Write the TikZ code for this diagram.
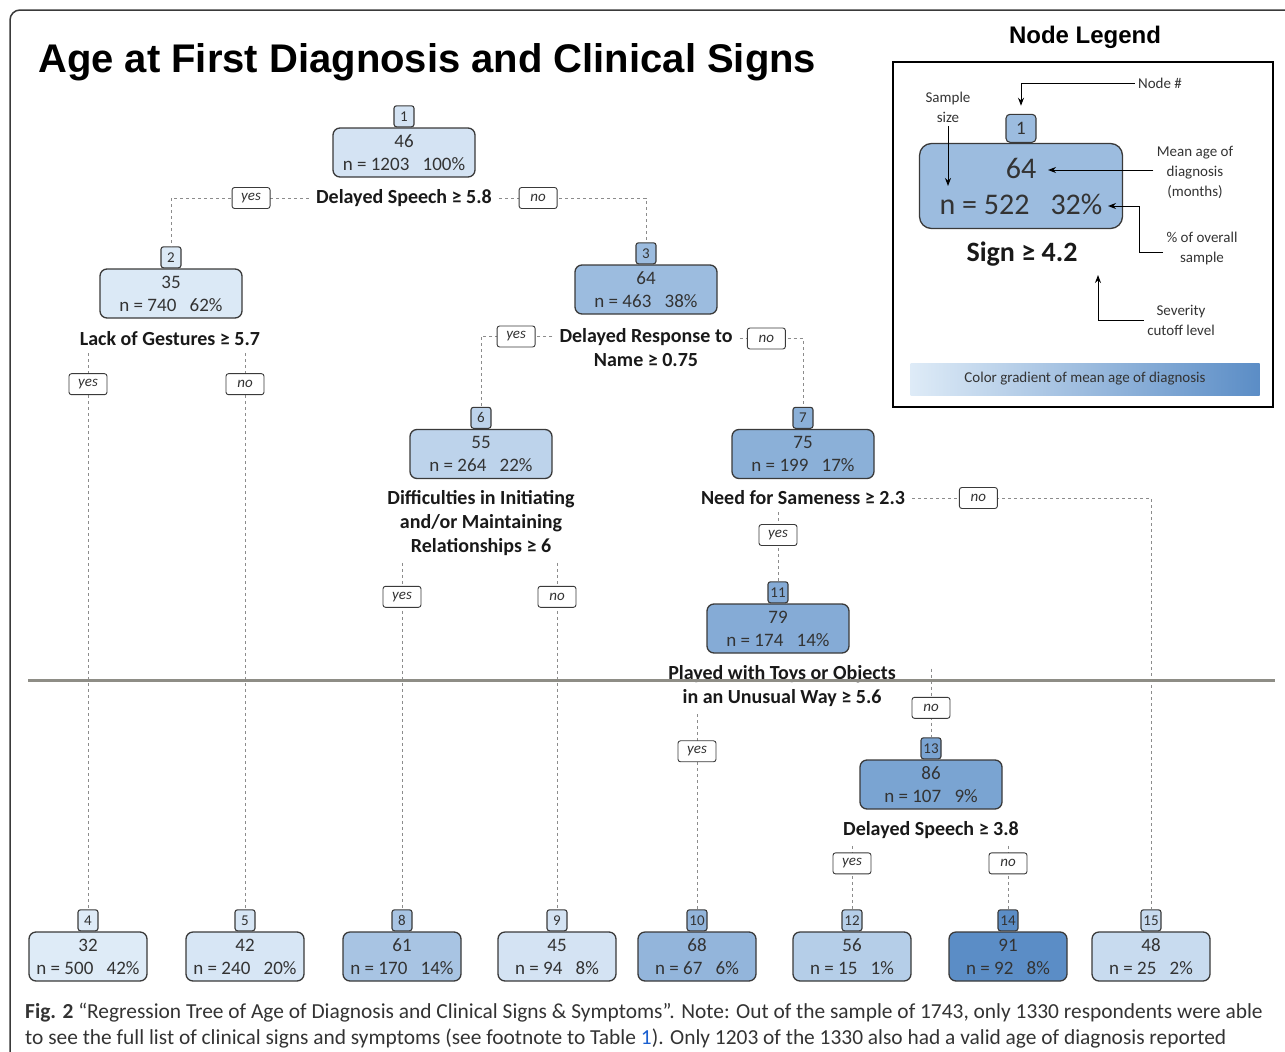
\documentclass[tikz,border=0pt]{standalone}
\usepackage{fontspec}
\setmainfont{Carlito}
\newfontfamily\titlefont{Liberation Sans}
\usetikzlibrary{positioning,arrows.meta}

\definecolor{agelo}{HTML}{DEEBF7}
\definecolor{agehi}{HTML}{5B8DC6}
\definecolor{boxline}{HTML}{3A3A3A}
\definecolor{inktext}{HTML}{333333}
\definecolor{dashgray}{HTML}{8C8C8C}
\definecolor{seamgray}{HTML}{8E8D86}
\definecolor{linkblue}{HTML}{1A5FD0}

\begin{document}
\begin{tikzpicture}[x=1pt, y=-1pt,
    treebox/.style={draw=boxline, line width=1.3pt, rounded corners=7pt, align=center,
        minimum width=142pt, minimum height=49pt, inner sep=0pt, text=inktext,
        font=\fontsize{19}{23}\selectfont},
    leafbox/.style={treebox, minimum width=118pt},
    numbox/.style={draw=boxline, line width=1.1pt, rounded corners=2.5pt, anchor=south,
        minimum width=20pt, minimum height=21pt, inner sep=1pt, text=inktext,
        font=\fontsize{15}{15}\selectfont},
    agefill/.style={fill=agehi!#1!agelo},
    splitlabel/.style={align=center, inner sep=2pt, text=black!90,
        font=\fontsize{20}{24}\selectfont\bfseries},
    answer/.style={solid, draw=boxline, line width=0.9pt, fill=white, rounded corners=2.5pt,
        minimum width=38pt, minimum height=21pt, inner sep=0pt, text=inktext,
        font=\fontsize{15}{15}\selectfont\itshape},
    branch/.style={dashgray, line width=0.8pt, dash pattern=on 3pt off 3pt, shorten <=5pt},
    legnote/.style={align=center, text=inktext, font=\fontsize{15}{20}\selectfont},
    legarrow/.style={-{Stealth[length=8pt,width=6pt]}, line width=1pt},
]
    \useasboundingbox (0,0) rectangle (1285,1052);

    % Draw the outer frame
    \draw[boxline, line width=1.5pt, rounded corners=10pt] (10,1052) |- (1285,10);

    % Title
    \node[anchor=base west, inner sep=0pt, font=\titlefont\bfseries\fontsize{40}{40}\selectfont] (title) at (38,72)
        {Age at First Diagnosis and Clinical Signs};

    % Inner nodes of the tree
    \foreach \id/\x/\y/\mean/\size/\pct/\tone in {1/404/152.5/46/1203/100/8, 2/171/293.5/35/740/62/2,
            3/646/289.5/64/463/38/50, 6/481/454/55/264/22/25, 7/803/454/75/199/17/63,
            11/778/628.5/79/174/14/68, 13/931/784.5/86/107/9/76} {
        \node[treebox, agefill=\tone] (n\id) at (\x,\y) {\mean\\n = \size\hspace{.7em}\pct\%};
        \node[numbox, agefill=\tone] (num\id) at (n\id.north) {\id};
    }

    % Leaves of the tree
    \foreach \id/\x/\mean/\size/\pct/\tone in {4/88/32/500/42/0, 5/245/42/240/20/5, 8/402/61/170/14/41,
            9/557/45/94/8/8, 10/697/68/67/6/57, 12/852/56/15/1/31, 14/1008/91/92/8/100, 15/1151/48/25/2/17} {
        \node[leafbox, agefill=\tone] (n\id) at (\x,956.5) {\mean\\n = \size\hspace{.7em}\pct\%};
        \node[numbox, agefill=\tone] (num\id) at (n\id.north) {\id};
    }

    % Splitting rules
    \node[splitlabel] (s1) at (404,198) {Delayed Speech ≥ 5.8};
    \node[splitlabel] (s2) at (170,339) {Lack of Gestures ≥ 5.7};
    \node[splitlabel] (s3) at (646,347.5) {Delayed Response to\\Name ≥ 0.75};
    \node[splitlabel] (s6) at (481,523) {Difficulties in Initiating\\and/or Maintaining\\Relationships ≥ 6};
    \node[splitlabel] (s7) at (803,498) {Need for Sameness ≥ 2.3};
    \node[splitlabel] (s11) at (782,686.5) {Played with Toys or Objects\\in an Unusual Way ≥ 5.6};
    \node[splitlabel] (s13) at (931,830) {Delayed Speech ≥ 3.8};

    % Branches
    \draw[branch] (s1.west) -| node[answer, pos=0.22] {yes} (num2.north);
    \draw[branch] (s1.east) -| node[answer, pos=0.145] {no} (num3.north);
    \draw[branch] (num4 |- s2.south) -- node[answer, pos=0.064] {yes} (num4.north);
    \draw[branch] (num5 |- s2.south) -- node[answer, pos=0.064] {no} (num5.north);
    \draw[branch] ([yshift=11pt]s3.west) -| node[answer, pos=0.27] {yes} (num6.north);
    \draw[branch] ([yshift=9pt]s3.east) -| node[answer, pos=0.232] {no} (num7.north);
    \draw[branch] (num8 |- s6.south) -- node[answer, pos=0.111] {yes} (num8.north);
    \draw[branch] (num9 |- s6.south) -- node[answer, pos=0.111] {no} (num9.north);
    \draw[branch] (num11 |- s7.south) -- node[answer, pos=0.375] {yes} (num11.north);
    \draw[branch] (s7.east) -| node[answer, pos=0.146] {no} (num15.north);
    \draw[branch] (num10 |- s11.south) -- node[answer, pos=0.21] {yes} (num10.north);
    \draw[branch] (num13 |- s11.north) -- node[answer, pos=0.6] {no} (num13.north);
    \draw[branch] (num12 |- s13.south) -- node[answer, pos=0.33] {yes} (num12.north);
    \draw[branch] (num14 |- s13.south) -- node[answer, pos=0.33] {no} (num14.north);

    % Seam across the page
    \draw[seamgray, line width=3pt] (28,680) -- (1275,680);

    % Node legend
    \node[font=\titlefont\bfseries\fontsize{24}{24}\selectfont] (legtitle) at (1085,37) {Node Legend};
    \draw[line width=2.5pt] (893,62) rectangle (1273,407);
    \node[treebox, agefill=50, minimum width=203pt, minimum height=85pt, rounded corners=12pt,
        font=\fontsize{30}{36}\selectfont] (lmain) at (1021,186) {64\\n = 522\hspace{.7em}32\%};
    \node[numbox, agefill=50, minimum width=30pt, minimum height=28pt, rounded corners=4pt,
        font=\fontsize{19}{19}\selectfont] (lnum) at (lmain.north) {1};
    \node[splitlabel, font=\fontsize{28}{28}\selectfont\bfseries] (lsign) at (1022,254) {Sign ≥ 4.2};
    \node[legnote] (lnodehash) at (1160,83) {Node \#};
    \node[legnote] (lsample) at (948,107) {Sample\\size};
    \node[legnote] (lmean) at (1195,172) {Mean age of\\diagnosis\\(months)};
    \node[legnote] (lpct) at (1202,248) {\% of overall\\sample};
    \node[legnote] (lsev) at (1181,320) {Severity\\cutoff level};
    \coordinate (lsamplept) at (948,186);
    \coordinate (lmeanpt) at (1048,170);
    \coordinate (lpctpt) at (1108,206);
    \coordinate (lsevpt) at (1098,275);
    \draw[legarrow] (lnodehash.west) -| ([yshift=8pt]lnum.north);
    \draw[legarrow] (lsample.south) -- (lsamplept);
    \draw[legarrow] ([yshift=2pt]lmean.west) -- (lmeanpt);
    \draw[legarrow] ([yshift=-4pt]lpct.west) -- ++(-24,0) |- (lpctpt);
    \draw[legarrow] (lsev.west) -| (lsevpt);
    \node[left color=agelo, right color=agehi, minimum width=349pt, minimum height=32pt, text=inktext,
        font=\fontsize{15}{15}\selectfont] (lgrad) at (1085,379) {Color gradient of mean age of diagnosis};

    % Caption
    \node[anchor=base west, inner sep=0pt, text=inktext, font=\fontsize{21.4}{26}\selectfont] (cap1) at (25,1018)
        {\textbf{Fig. 2} “Regression Tree of Age of Diagnosis and Clinical Signs \& Symptoms”. Note: Out of the sample of 1743, only 1330 respondents were able};
    \node[anchor=base west, inner sep=0pt, text=inktext, font=\fontsize{21.4}{26}\selectfont] (cap2) at (25,1044)
        {to see the full list of clinical signs and symptoms (see footnote to Table \textcolor{linkblue}{1}). Only 1203 of the 1330 also had a valid age of diagnosis reported};
\end{tikzpicture}
\end{document}
